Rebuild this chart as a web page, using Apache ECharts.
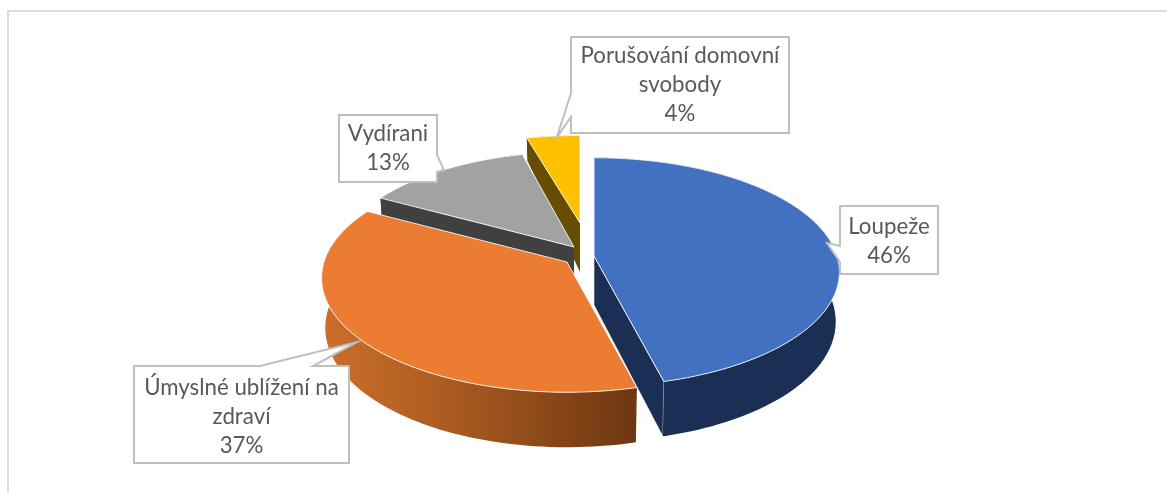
<!DOCTYPE html>
<html>
<head>
<meta charset="utf-8">
<title>Pie</title>
<script src="https://cdn.jsdelivr.net/npm/echarts@6/dist/echarts.min.js"></script>
<style>
  html, body { margin: 0; padding: 0; background: #fff; }
  #chart { width: 1167px; height: 493px; }
</style>
</head>
<body>
<div id="chart"></div>
<script>
// data
const categories = ['Loupeže', 'Úmyslné ublížení na\nzdraví', 'Vydírani', 'Porušování domovní\nsvobody']
const values = [46, 37, 13, 4]
const total = values.reduce((a, b) => a + b, 0)

// colours per slice
const topColors = ['#4371C2', '#EB7C31', '#A2A2A2', '#FFC000']
const cutColors = ['#1B2E53', '#6E3812', '#404040', '#664D00']
const rimColors = [
  '#1B2E53',
  new echarts.graphic.LinearGradient(0, 0, 1, 0, [
    { offset: 0, color: '#CD6E2C' },
    { offset: 0.45, color: '#A6591F' },
    { offset: 0.85, color: '#7C3F14' },
    { offset: 1, color: '#6C3812' }
  ]),
  '#404040',
  '#664D00'
]

// pie geometry: perspective disc, each slice pulled out by its own offset
const cx = 575, cy = 257, rx = 243, ry = 112, persp = 0.14
const explode = [[19, -1], [-8, 5], [-1, -10], [5, -34]]
const shrink = [[1, 1], [1, 1], [0.97, 0.968], [1, 0.891]] // back slices sit further away
const STEP = Math.PI / 120

// callouts: box rect and pointer, in page pixels
const callouts = [
  { box: [840, 206, 938, 274], path: [[840, 262], [827, 243], [840, 246]], side: 'left', textDy: 1 },
  { box: [134, 366, 349, 463], path: [[313, 366], [357, 342], [260, 366]], side: 'top', textDy: 2 },
  { box: [339, 115, 437, 182], path: [[437, 155], [444, 170], [437, 172]], side: 'right', textDy: 0 },
  { box: [571, 37, 789, 133], path: [[571, 117], [557, 137], [571, 93]], side: 'left', textDy: 0 }
]

function angleOf(v) {
  return echarts.number.linearMap(v, [0, total], [0, Math.PI * 2])
}

function startOf(i) {
  return values.slice(0, i).reduce((a, b) => a + b, 0)
}

function wallDepth(v) {
  return v >= -0.4 ? 49 + 6 * Math.max(v, 0) : 49 + 45 * (v + 0.4)
}

function project(i, theta, bottom) {
  const [dx, dy] = explode[i]
  const [sx, sy] = shrink[i]
  const u = Math.sin(theta), v = -Math.cos(theta), w = 1 - persp * v
  const x = cx + dx + sx * rx * u / w * (bottom ? 0.985 : 1)
  const y = cy + dy + sy * ry * v / w + (bottom ? wallDepth(v) : 0)
  return [x, y]
}

function apexPoint(i, bottom) {
  const [dx, dy] = explode[i]
  return [cx + dx, cy + dy + (bottom ? 49 : 0)]
}

function renderSlice(params, api) {
  const i = params.dataIndex
  const a0 = angleOf(startOf(i))
  const a1 = a0 + angleOf(api.value(0))
  const rimTop = []
  const rimBottom = []
  for (let t = a0; t < a1; t += STEP) {
    rimTop.push(project(i, t))
    rimBottom.push(project(i, t, true))
  }
  rimTop.push(project(i, a1))
  rimBottom.push(project(i, a1, true))

  const z = 10 * (values.length - i)
  const children = []
  // only the cut wall that faces the viewer
  if (Math.sin(a0) < -0.01) {
    children.push({
      type: 'polygon', z2: z,
      shape: { points: [apexPoint(i), rimTop[0], rimBottom[0], apexPoint(i, true)] },
      style: { fill: cutColors[i] }
    })
  }
  if (Math.sin(a1) > 0.01) {
    children.push({
      type: 'polygon', z2: z,
      shape: { points: [apexPoint(i), rimTop[rimTop.length - 1], rimBottom[rimBottom.length - 1], apexPoint(i, true)] },
      style: { fill: cutColors[i], stroke: 'rgba(255,255,255,0.7)', lineWidth: 0.8 }
    })
  }
  children.push({ // outer wall
    type: 'polygon', z2: z + 1,
    shape: { points: rimTop.concat(rimBottom.slice().reverse()) },
    style: { fill: rimColors[i] }
  })
  children.push({ // top
    type: 'polygon', z2: z + 2,
    shape: { points: [apexPoint(i)].concat(rimTop) },
    style: { fill: topColors[i], stroke: 'rgba(255,255,255,0.85)', lineWidth: 1 }
  })
  return { type: 'group', children }
}

function renderCallout(params, api) {
  const i = params.dataIndex
  const c = callouts[i]
  const [x0, y0, x1, y1] = c.box
  const pts = {
    left: [[x0, y0], [x1, y0], [x1, y1], [x0, y1]].concat(c.path),
    top: [[x0, y0]].concat(c.path.slice().reverse(), [[x1, y0], [x1, y1], [x0, y1]]),
    right: [[x0, y0], [x1, y0]].concat(c.path, [[x1, y1], [x0, y1]])
  }[c.side]
  const pct = Math.round(api.value(0) / total * 100) + '%'
  return {
    type: 'group',
    children: [
      {
        type: 'polygon', z2: 100,
        shape: { points: pts },
        style: { fill: '#fff', stroke: '#BFBFBF', lineWidth: 2 }
      },
      {
        type: 'text', z2: 101,
        x: (x0 + x1) / 2, y: (y0 + y1) / 2 + c.textDy,
        style: {
          text: categories[i] + '\n' + pct,
          fill: '#595959',
          font: '22.3px Lato, "Open Sans", sans-serif',
          lineHeight: 29,
          align: 'center',
          verticalAlign: 'middle'
        }
      }
    ]
  }
}

const chart = echarts.init(document.getElementById('chart'))
chart.setOption({
  animation: false,
  backgroundColor: '#fff',
  graphic: [
    {
      type: 'polyline',
      shape: { points: [[8, 493], [8, 11], [1167, 11]] },
      style: { stroke: '#DDDDDD', lineWidth: 2, fill: null },
      silent: true
    }
  ],
  series: [
    {
      type: 'custom',
      coordinateSystem: 'none',
      renderItem: renderSlice,
      data: values.map((v, i) => ({ name: categories[i], value: [v] })),
      silent: true
    },
    {
      type: 'custom',
      coordinateSystem: 'none',
      renderItem: renderCallout,
      data: values.map((v, i) => ({ name: categories[i], value: [v] })),
      silent: true,
      z: 5
    }
  ]
})
window.addEventListener('resize', () => chart.resize())
</script>
</body>
</html>
